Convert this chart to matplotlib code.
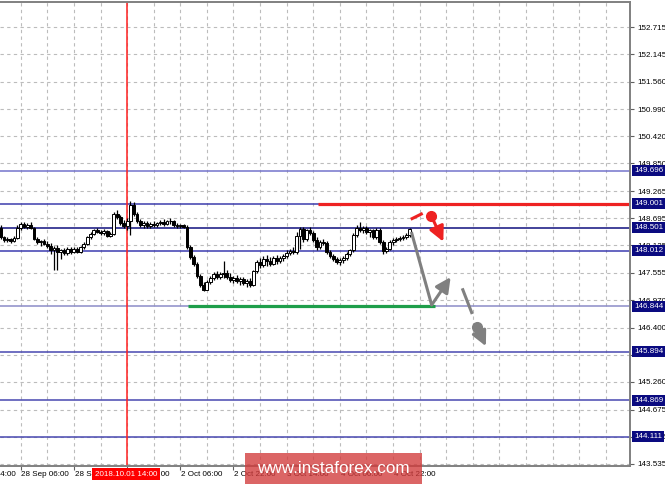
import numpy as np
import matplotlib
matplotlib.use("Agg")
import matplotlib.pyplot as plt
from matplotlib.patches import Rectangle
from matplotlib import transforms

# H1 bars, index 0 = 28 Sep 06:00 (weekend gap skipped)
first_bar = -6
opens = [
    148.50, 148.30, 148.24, 148.26, 148.21, 148.29, 148.50, 148.58, 148.52, 148.56,
    148.50, 148.27, 148.20, 148.22, 148.16, 148.12, 148.03, 148.08, 147.98, 148.02,
    147.96, 148.06, 147.98, 148.05, 147.99, 148.10, 148.16, 148.30, 148.36, 148.44,
    148.41, 148.38, 148.43, 148.33, 148.37, 148.78, 148.72, 148.60, 148.54, 148.64,
    148.98, 148.78, 148.64, 148.56, 148.60, 148.54, 148.58, 148.55, 148.59, 148.62,
    148.58, 148.63, 148.64, 148.56, 148.53, 148.55, 148.52, 148.10, 147.88, 147.74,
    147.48, 147.30, 147.20, 147.36, 147.44, 147.52, 147.46, 147.52, 147.55, 147.47,
    147.40, 147.44, 147.38, 147.42, 147.34, 147.38, 147.30, 147.58, 147.78, 147.72,
    147.84, 147.80, 147.74, 147.86, 147.80, 147.86, 147.90, 147.96, 148.00, 147.98,
    148.32, 148.48, 148.26, 148.44, 148.38, 148.24, 148.10, 148.20, 148.18, 147.98,
    147.90, 147.84, 147.78, 147.82, 147.86, 147.94, 148.02, 148.34, 148.50, 148.44,
    148.50, 148.40, 148.44, 148.30, 148.46, 148.20, 148.00, 148.06, 148.20, 148.24,
    148.26, 148.28, 148.30, 148.34,
]
highs = [
    148.55, 148.33, 148.30, 148.28, 148.32, 148.55, 148.62, 148.62, 148.60, 148.62,
    148.52, 148.30, 148.25, 148.26, 148.22, 148.18, 148.12, 148.14, 148.06, 148.08,
    148.10, 148.10, 148.09, 148.09, 148.12, 148.20, 148.32, 148.40, 148.48, 148.50,
    148.46, 148.47, 148.45, 148.40, 148.82, 148.86, 148.76, 148.66, 148.70, 149.06,
    149.04, 148.82, 148.68, 148.64, 148.63, 148.62, 148.63, 148.62, 148.66, 148.68,
    148.66, 148.70, 148.66, 148.60, 148.58, 148.58, 148.55, 148.14, 147.92, 147.78,
    147.52, 147.36, 147.40, 147.48, 147.56, 147.58, 147.56, 147.80, 147.62, 147.55,
    147.48, 147.50, 147.46, 147.46, 147.42, 147.44, 147.62, 147.82, 147.86, 147.90,
    147.92, 147.88, 147.90, 147.92, 147.90, 147.94, 148.02, 148.06, 148.10, 148.40,
    148.52, 148.52, 148.48, 148.52, 148.42, 148.30, 148.24, 148.26, 148.22, 148.02,
    147.94, 147.88, 147.86, 147.90, 147.98, 148.06, 148.38, 148.56, 148.62, 148.54,
    148.54, 148.48, 148.48, 148.50, 148.50, 148.24, 148.10, 148.24, 148.28, 148.30,
    148.32, 148.34, 148.38, 148.50,
]
lows = [
    148.27, 148.20, 148.20, 148.18, 148.19, 148.27, 148.46, 148.49, 148.48, 148.47,
    148.24, 148.15, 148.12, 148.13, 148.08, 147.95, 147.62, 147.60, 147.85, 147.92,
    147.93, 147.95, 147.96, 147.96, 147.97, 148.06, 148.14, 148.27, 148.34, 148.38,
    148.34, 148.34, 148.30, 148.30, 148.35, 148.68, 148.56, 148.50, 148.45, 148.35,
    148.74, 148.60, 148.52, 148.49, 148.50, 148.50, 148.52, 148.52, 148.55, 148.54,
    148.55, 148.58, 148.52, 148.50, 148.50, 148.49, 148.06, 147.84, 147.70, 147.44,
    147.26, 147.16, 147.18, 147.32, 147.40, 147.42, 147.42, 147.45, 147.42, 147.36,
    147.34, 147.33, 147.30, 147.30, 147.26, 147.25, 147.28, 147.55, 147.66, 147.68,
    147.70, 147.70, 147.72, 147.74, 147.76, 147.80, 147.86, 147.92, 147.94, 147.95,
    148.05, 148.20, 148.22, 148.34, 148.20, 148.04, 148.06, 148.14, 147.94, 147.86,
    147.80, 147.74, 147.72, 147.76, 147.82, 147.90, 147.98, 148.30, 148.40, 148.38,
    148.36, 148.30, 148.26, 148.26, 148.16, 147.94, 147.96, 148.02, 148.14, 148.20,
    148.22, 148.24, 148.26, 148.30,
]
closes = [
    148.30, 148.24, 148.26, 148.21, 148.29, 148.50, 148.58, 148.52, 148.56, 148.50,
    148.27, 148.20, 148.22, 148.16, 148.12, 148.03, 148.08, 147.98, 148.02, 147.96,
    148.06, 147.98, 148.05, 147.99, 148.10, 148.16, 148.30, 148.36, 148.44, 148.41,
    148.38, 148.43, 148.33, 148.37, 148.78, 148.72, 148.60, 148.54, 148.64, 148.98,
    148.78, 148.64, 148.56, 148.60, 148.54, 148.58, 148.55, 148.59, 148.62, 148.58,
    148.63, 148.64, 148.56, 148.53, 148.55, 148.52, 148.10, 147.88, 147.74, 147.48,
    147.30, 147.20, 147.36, 147.44, 147.52, 147.46, 147.52, 147.55, 147.47, 147.40,
    147.44, 147.38, 147.42, 147.34, 147.38, 147.30, 147.58, 147.78, 147.72, 147.84,
    147.80, 147.74, 147.86, 147.80, 147.86, 147.90, 147.96, 148.00, 147.98, 148.32,
    148.48, 148.26, 148.44, 148.38, 148.24, 148.10, 148.20, 148.18, 147.98, 147.90,
    147.84, 147.78, 147.82, 147.86, 147.94, 148.02, 148.34, 148.50, 148.44, 148.50,
    148.40, 148.44, 148.30, 148.46, 148.20, 148.00, 148.06, 148.20, 148.24, 148.26,
    148.28, 148.30, 148.34, 148.48,
]

yticks = [152.715, 152.145, 151.560, 150.990, 150.420, 149.850, 149.265, 148.695,
          148.125, 147.555, 146.970, 146.400, 145.830, 145.260, 144.675, 144.105, 143.535]
ytick_labels = ["%.3f" % v for v in yticks]

xtick_idx = [-16, 0, 16, 32, 48, 64, 80, 96, 112]
xtick_labels = ["27 Sep 14:00", "28 Sep 06:00", "28 Sep 22:00", "1 Oct 14:00",
                "2 Oct 06:00", "2 Oct 22:00", "3 Oct 14:00", "4 Oct 06:00", "4 Oct 22:00"]

levels = [149.696, 149.001, 148.501, 148.012, 146.844, 145.894, 144.869, 144.111]
level_colors = ["#7474cc", "#3c3cac", "#10107e", "#3c3cb0", "#8c8cc8", "#4848b0", "#4848b0", "#4848b0"]

cursor_idx = 32
cursor_label = "2018.10.01 14:00"

resistance = (89.4, 149.001)   # red line start, runs to right edge
support = (50.4, 124.6, 146.844)  # green segment

# forecast drawings (bar index, price)
gray_down = [(117.5, 148.41), (123.6, 146.875)]
gray_up = [(123.6, 146.875), (129.3, 147.46)]
gray2_line = [(132.8, 147.225), (135.8, 146.685)]
gray2_dot = (137.1, 146.42)
gray2_arrow = [(137.1, 146.42), (139.9, 146.01)]
red_line = [(117.3, 148.675), (120.9, 148.80)]
red_dot = (123.5, 148.745)
red_arrow = [(123.5, 148.745), (127.1, 148.205)]

W, H = 665, 484
fig = plt.figure(figsize=(W / 100, H / 100), dpi=100)
ax = fig.add_axes([0, 18 / H, 630 / W, (466 - 1.5) / H])
FONT = "Liberation Sans"
FS = 5.8

ax.set_xlim(-6.226, 183.25)
ax.set_ylim(143.492, 153.251)

# grid
ax.set_yticks(yticks)
ax.set_yticklabels(ytick_labels, fontsize=FS, family=FONT)
ax.yaxis.tick_right()
ax.tick_params(axis="y", length=3, width=0.8, pad=2, color="#606060")
ax.set_xticks(xtick_idx[1:])
ax.set_xticklabels([])
ax.set_xticks(np.arange(0, 184, 8), minor=True)
ax.tick_params(axis="x", which="major", length=3, width=0.8, color="#606060")
ax.tick_params(axis="x", which="minor", length=0)
ax.grid(True, which="both", axis="x", color="#bcbcbc", lw=0.8, ls=(0, (3, 3)))
ax.grid(True, which="major", axis="y", color="#bcbcbc", lw=0.8, ls=(0, (3, 3)))
ax.set_axisbelow(True)
for side in ("top", "right", "bottom"):
    ax.spines[side].set_color("#808080")
    ax.spines[side].set_linewidth(1.4)
ax.spines["left"].set_visible(False)

# x labels (left aligned at tick)
tr = transforms.blended_transform_factory(ax.transData, ax.transAxes)
for xi, lab in zip(xtick_idx, xtick_labels):
    ax.text(xi + 0.2, -0.0175, lab, transform=tr, ha="left", va="center",
            fontsize=FS, family=FONT, clip_on=False)

# levels
for lv, col in zip(levels, level_colors):
    ax.axhline(lv, color=col, lw=1.1, zorder=1.5)
ax.plot([resistance[0], 183.25], [resistance[1]] * 2, color="#ee2222", lw=2.3, zorder=2,
        solid_capstyle="butt")
ax.plot([support[0], support[1]], [support[2]] * 2, color="#1e9e4a", lw=2.3, zorder=2,
        solid_capstyle="butt")

# cursor
ax.axvline(cursor_idx, color="#ff2020", lw=1.1, zorder=1.6)

# candles
idx = np.arange(first_bar, first_bar + len(closes))
o = np.array(opens); c = np.array(closes)
ax.vlines(idx, lows, highs, color="black", lw=0.9, zorder=3)
bull = c >= o
bottoms = np.minimum(o, c)
heights = np.maximum(np.abs(c - o), 0.012)
ax.bar(idx[bull], heights[bull], bottom=bottoms[bull], width=0.85, color="white",
       edgecolor="black", lw=0.7, zorder=4)
ax.bar(idx[~bull], heights[~bull], bottom=bottoms[~bull], width=0.85, color="black",
       edgecolor="black", lw=0.7, zorder=4)

# forecast drawings
def seg(pts, col):
    ax.plot([p[0] for p in pts], [p[1] for p in pts], color=col, lw=2.2,
            solid_capstyle="butt", zorder=5)

def arrow(pts, col):
    ax.annotate("", xy=pts[1], xytext=pts[0],
                arrowprops=dict(arrowstyle="-|>,head_length=0.9,head_width=0.45",
                                color=col, lw=2.2, shrinkA=0, shrinkB=0), zorder=5)

seg(gray_down, "#808080")
arrow(gray_up, "#808080")
seg(gray2_line, "#808080")
ax.plot(*gray2_dot, "o", color="#808080", ms=7, zorder=5)
arrow(gray2_arrow, "#808080")
seg(red_line, "#ee2222")
ax.plot(*red_dot, "o", color="#ee2222", ms=7, zorder=5)
arrow(red_arrow, "#ee2222")

# level price boxes on the right axis
try_ = transforms.blended_transform_factory(ax.transAxes, ax.transData)
for lv in levels:
    ax.text(1.0065, lv, "%.3f" % lv, transform=try_, ha="left", va="center",
            fontsize=FS, family=FONT, color="white", clip_on=False, zorder=6,
            bbox=dict(boxstyle="square,pad=0.25", fc="#0a0a80", ec="none"))

# cursor time box
ax.text(cursor_idx - 0.3, -0.0175, cursor_label, transform=tr, ha="center", va="center",
        fontsize=FS, family=FONT, color="white", clip_on=False, zorder=6,
        bbox=dict(boxstyle="square,pad=0.3", fc="#ff0000", ec="none"))

# watermark
fig.patches.append(Rectangle((245 / W, 0), 177 / W, 31 / H, transform=fig.transFigure,
                             fc="#d23a3a", ec="none", alpha=0.78, zorder=10))
fig.text(333.5 / W, 15.5 / H, "www.instaforex.com", ha="center", va="center",
         fontsize=12.3, family=FONT, color="white", zorder=11)

fig.savefig("out.png", dpi=100, facecolor="white")
